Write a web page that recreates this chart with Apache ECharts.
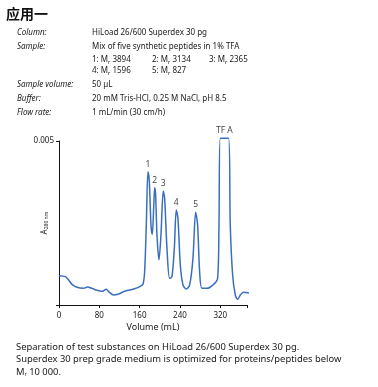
<!DOCTYPE html>
<html lang="en">
<head>
  <meta charset="UTF-8">
  <title>Superdex 30 pg</title>
  <script src="https://cdn.jsdelivr.net/npm/echarts@6/dist/echarts.min.js"></script>
  <style>
    html, body { margin: 0; padding: 0; background: #fff; }
  </style>
</head>
<body>
<div id="chart" style="width: 378px; height: 387px;"></div>

<script>
  // chromatogram: volume (mL) and A280
  var volume = [0, 12.6, 19.2, 25.8, 35.7, 48.9, 56.9, 65.5, 75.4, 85.3, 93.9, 98.5, 108.4, 118.3,
    131.6, 148.1, 161.3, 166.6, 169.9, 173.2, 176.5, 179.2, 182.5, 185.1, 187.8, 189.8, 191.7,
    194.4, 198.3, 202.3, 206.9, 209.6, 214.2, 219.5, 224.1, 228.8, 232.7, 236.0, 240.7, 246.0,
    252.6, 259.2, 265.8, 271.1, 275.0, 279.0, 283.6, 293.6, 306.8, 314.7, 317.4, 320, 336.5,
    339.8, 344.5, 349.8, 354.4, 359.7, 366.3, 378];
  var absorbance = [0.000894, 0.000864, 0.000762, 0.000630, 0.000539, 0.000508, 0.000549,
    0.000508, 0.000447, 0.000417, 0.000478, 0.000407, 0.000305, 0.000335, 0.000427, 0.000488,
    0.000569, 0.000630, 0.001016, 0.002439, 0.004065, 0.003760, 0.002439, 0.002154, 0.002947,
    0.003577, 0.003354, 0.002134, 0.001372, 0.002134, 0.003476, 0.003252, 0.001728, 0.000813,
    0.000864, 0.001728, 0.002896, 0.002642, 0.001220, 0.000610, 0.000488, 0.000610, 0.001423,
    0.002825, 0.002439, 0.001016, 0.000508, 0.000508, 0.000630, 0.000813, 0.002439, 0.005081,
    0.005081, 0.002439, 0.000915, 0.000305, 0.000173, 0.000305, 0.000386, 0.000366];

  // peak labels
  var peakNames = ['1', '2', '3', '4', '5', 'TF A'];
  var peakVolumes = [176.5, 189.8, 206.9, 232.7, 271.1, 328];
  var peakValues = [0.004065, 0.003577, 0.003476, 0.002896, 0.002825, 0.005081];

  var xTicks = [0, 80, 160, 240, 320];

  // text block above the chart
  var infoLabels = ['Column:', 'Sample:', '', '', 'Sample volume:', 'Buffer:', 'Flow rate:'];
  var infoValues = [
    ['HiLoad 26/600 Superdex 30 pg'],
    ['Mix of five synthetic peptides in 1% TFA'],
    ['1: M{s|r} 3894', '2: M{s|r} 3134', '3: M{s|r} 2365'],
    ['4: M{s|r} 1596', '5: M{s|r} 827'],
    ['50 µL'],
    ['20 mM Tris-HCl, 0.25 M NaCl, pH 8.5'],
    ['1 mL/min (30 cm/h)']
  ];
  var infoRowY = [33, 47, 60, 71, 85, 99, 113];
  var infoColX = [92, 152, 209];

  var caption = [
    'Separation of test substances on HiLoad 26/600 Superdex 30 pg.',
    'Superdex 30 prep grade medium is optimized for proteins/peptides below',
    'M{s|r} 10 000.'
  ];

  var font = 'Noto Sans';
  var textColor = '#1a1a1a';
  var subRich = { s: { fontSize: 5.5, fontFamily: font, fill: textColor, padding: [4, 0, 0, 0] } };

  var graphics = [{
    type: 'text', left: 6, top: 7,
    style: { text: '应用一', fontSize: 14, fontWeight: 'bold', fontFamily: 'Noto Sans CJK SC', fill: '#111' }
  }];
  infoLabels.forEach(function (lab, i) {
    if (lab) {
      graphics.push({
        type: 'text', x: 17, y: infoRowY[i],
        style: { text: lab, fontSize: 8, fontStyle: 'italic', fontFamily: font, fill: textColor, verticalAlign: 'middle' }
      });
    }
    infoValues[i].forEach(function (v, j) {
      graphics.push({
        type: 'text', x: infoColX[j], y: infoRowY[i],
        style: { text: v, fontSize: 8, fontFamily: font, fill: textColor, verticalAlign: 'middle', rich: subRich }
      });
    });
  });
  caption.forEach(function (c, i) {
    graphics.push({
      type: 'text', x: 16, y: 347 + i * 12.5,
      style: { text: c, fontSize: 9.4, fontFamily: font, fill: textColor, verticalAlign: 'middle', rich: subRich }
    });
  });

  var chart = echarts.init(document.getElementById('chart'));

  var option = {
    backgroundColor: '#fff',
    animation: false,
    textStyle: { fontFamily: font },
    graphic: graphics,
    grid: { left: 59, right: 131, top: 141, bottom: 82 },
    xAxis: {
      type: 'value',
      min: 0,
      max: 373,
      interval: 80,
      name: 'Volume (mL)',
      nameLocation: 'middle',
      nameGap: 18,
      nameMoveOverlap: false,
      nameTextStyle: { fontSize: 9, color: textColor, fontFamily: font },
      axisLine: { lineStyle: { color: '#111', width: 1 } },
      axisTick: { length: 3, lineStyle: { color: '#111' } },
      axisLabel: {
        fontSize: 8, color: textColor, margin: 7,
        formatter: function (v) { return xTicks.indexOf(v) >= 0 ? String(v) : ''; }
      },
      splitLine: { show: false }
    },
    yAxis: {
      type: 'value',
      min: 0,
      max: 0.005,
      interval: 0.005,
      name: 'A{s|280 nm}',
      nameLocation: 'middle',
      nameRotate: 90,
      nameGap: 10,
      nameMoveOverlap: false,
      nameTextStyle: {
        fontSize: 8, color: textColor, fontFamily: font,
        rich: { s: { fontSize: 5, color: textColor, padding: [4, 0, 0, 0] } }
      },
      axisLine: { show: true, lineStyle: { color: '#111', width: 1 } },
      axisTick: { show: true, length: 3, lineStyle: { color: '#111' } },
      axisLabel: {
        fontSize: 8, color: textColor, margin: 5,
        formatter: function (v) { return v === 0 ? '' : '0.005'; }
      },
      splitLine: { show: false }
    },
    series: [{
      type: 'line',
      data: volume.map(function (v, i) { return [v, absorbance[i]]; }),
      showSymbol: false,
      smooth: 0.3,
      clip: false,
      lineStyle: { color: '#3a6fbf', width: 1.5 }
    }, {
      type: 'scatter',
      data: peakVolumes.map(function (v, i) { return [v, peakValues[i], peakNames[i]]; }),
      symbolSize: 0,
      clip: false,
      label: {
        show: true,
        position: 'top',
        distance: 3,
        fontSize: 8.5,
        color: '#111',
        fontFamily: font,
        formatter: function (p) { return p.data[2]; }
      }
    }]
  };

  chart.setOption(option);
</script>
</body>
</html>
